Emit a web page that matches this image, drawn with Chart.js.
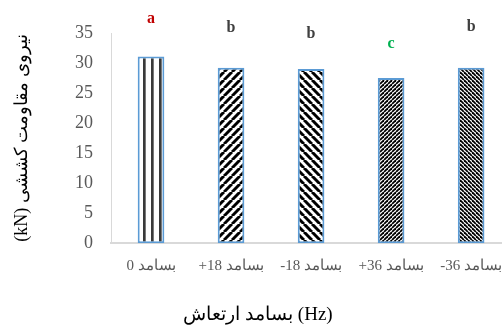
<!DOCTYPE html>
<html><head><meta charset="utf-8">
<script src="https://cdn.jsdelivr.net/npm/chart.js@4/dist/chart.umd.min.js"></script>
<style>
html,body{margin:0;padding:0;overflow:hidden;background:#fff;width:502px;height:326px}
#c{display:block}
</style></head><body>
<canvas id="c" dir="rtl" width="516" height="326"></canvas>
<script>
// ---- data ----
const categories = ['بسامد 0', 'بسامد 18+', 'بسامد 18-', 'بسامد 36+', 'بسامد 36-'];
const strengthKN = [31.1, 29.2, 29.0, 27.5, 29.2];
const groupLetters = ['a', 'b', 'b', 'c', 'b'];
const letterLevels = [37.4, 35.8, 34.9, 33.2, 36.1];
const yTickValues = [0, 5, 10, 15, 20, 25, 30, 35];
const yTitle = 'نیروی مقاومت کششی (kN)';
const xTitle = '(Hz) بسامد ارتعاش';

// ---- styles ----
const letterColors = ['#C00000', '#3F3F3F', '#3F3F3F', '#00B050', '#3F3F3F'];
const patternKinds = ['vertical', 'wideUp', 'wideDown', 'darkUp', 'darkDown'];

function makePattern(kind) {
  const c = document.createElement('canvas');
  const g = c.getContext('2d');
  let s = 8;
  if (kind === 'darkUp' || kind === 'darkDown') s = 4;
  c.width = s; c.height = s;
  g.fillStyle = '#fff'; g.fillRect(0, 0, s, s);
  if (kind === 'vertical') {
    g.fillStyle = '#3a3a3a';
    g.fillRect(7, 0, 1, s); g.fillRect(0, 0, 1, s);
    g.fillStyle = '#7a7a7a'; g.fillRect(1, 0, 1, s);
  } else {
    g.strokeStyle = '#000';
    g.lineWidth = kind.startsWith('wide') ? 3 : 1.8;
    const up = kind.endsWith('Up');
    for (const k of [-s, 0, s]) {
      g.beginPath();
      if (up) { g.moveTo(k, s); g.lineTo(k + s, 0); }
      else { g.moveTo(k, 0); g.lineTo(k + s, s); }
      g.stroke();
    }
  }
  return g.createPattern(c, 'repeat');
}
const fills = patternKinds.map(makePattern);

const letterPlugin = {
  id: 'letters',
  afterDraw(chart) {
    const {ctx, scales: {x, y}} = chart;
    ctx.save();
    ctx.font = 'bold 16px "Liberation Serif"';
    ctx.textAlign = 'center';
    ctx.textBaseline = 'middle';
    groupLetters.forEach((t, i) => {
      ctx.fillStyle = letterColors[i];
      ctx.fillText(t, x.getPixelForValue(i), y.getPixelForValue(letterLevels[i]));
    });
    ctx.restore();
  }
};

new Chart(document.getElementById('c'), {
  type: 'bar',
  data: {
    labels: categories,
    datasets: [{
      data: strengthKN,
      backgroundColor: fills,
      borderColor: '#5B9BD5',
      borderWidth: 2,
      borderSkipped: false,
      categoryPercentage: 1,
      barPercentage: 0.333
    }]
  },
  options: {
    responsive: false,
    animation: false,
    layout: {padding: {top: 33, left: 0, right: 0, bottom: 0}},
    plugins: {
      legend: {display: false},
      tooltip: {enabled: false},
      title: {
        display: true, position: 'bottom', text: xTitle, color: '#000',
        font: {family: '"Liberation Serif"', size: 19, weight: 'normal', lineHeight: 1.2},
        padding: {top: 0, bottom: 0}
      }
    },
    scales: {
      x: {
        grid: {display: false, drawTicks: false},
        border: {display: true, color: '#D9D9D9', width: 2},
        ticks: {color: '#595959', font: {family: '"Liberation Serif"', size: 15}, padding: 14, maxRotation: 0, autoSkip: false},
        afterFit(s) { s.height = 60; }
      },
      y: {
        min: 0, max: 35,
        afterBuildTicks(s) { s.ticks = yTickValues.map(v => ({value: v})); },
        grid: {display: false, drawTicks: false},
        border: {display: true, color: '#D9D9D9', width: 1},
        ticks: {color: '#595959', font: {family: '"Liberation Serif"', size: 18}, padding: 18},
        title: {display: true, text: yTitle, color: '#000', font: {family: '"Liberation Serif"', size: 18}, padding: {top: 11, bottom: 0}},
        afterFit(s) { s.width = 111; }
      }
    }
  },
  plugins: [letterPlugin]
});
</script>
</body></html>
